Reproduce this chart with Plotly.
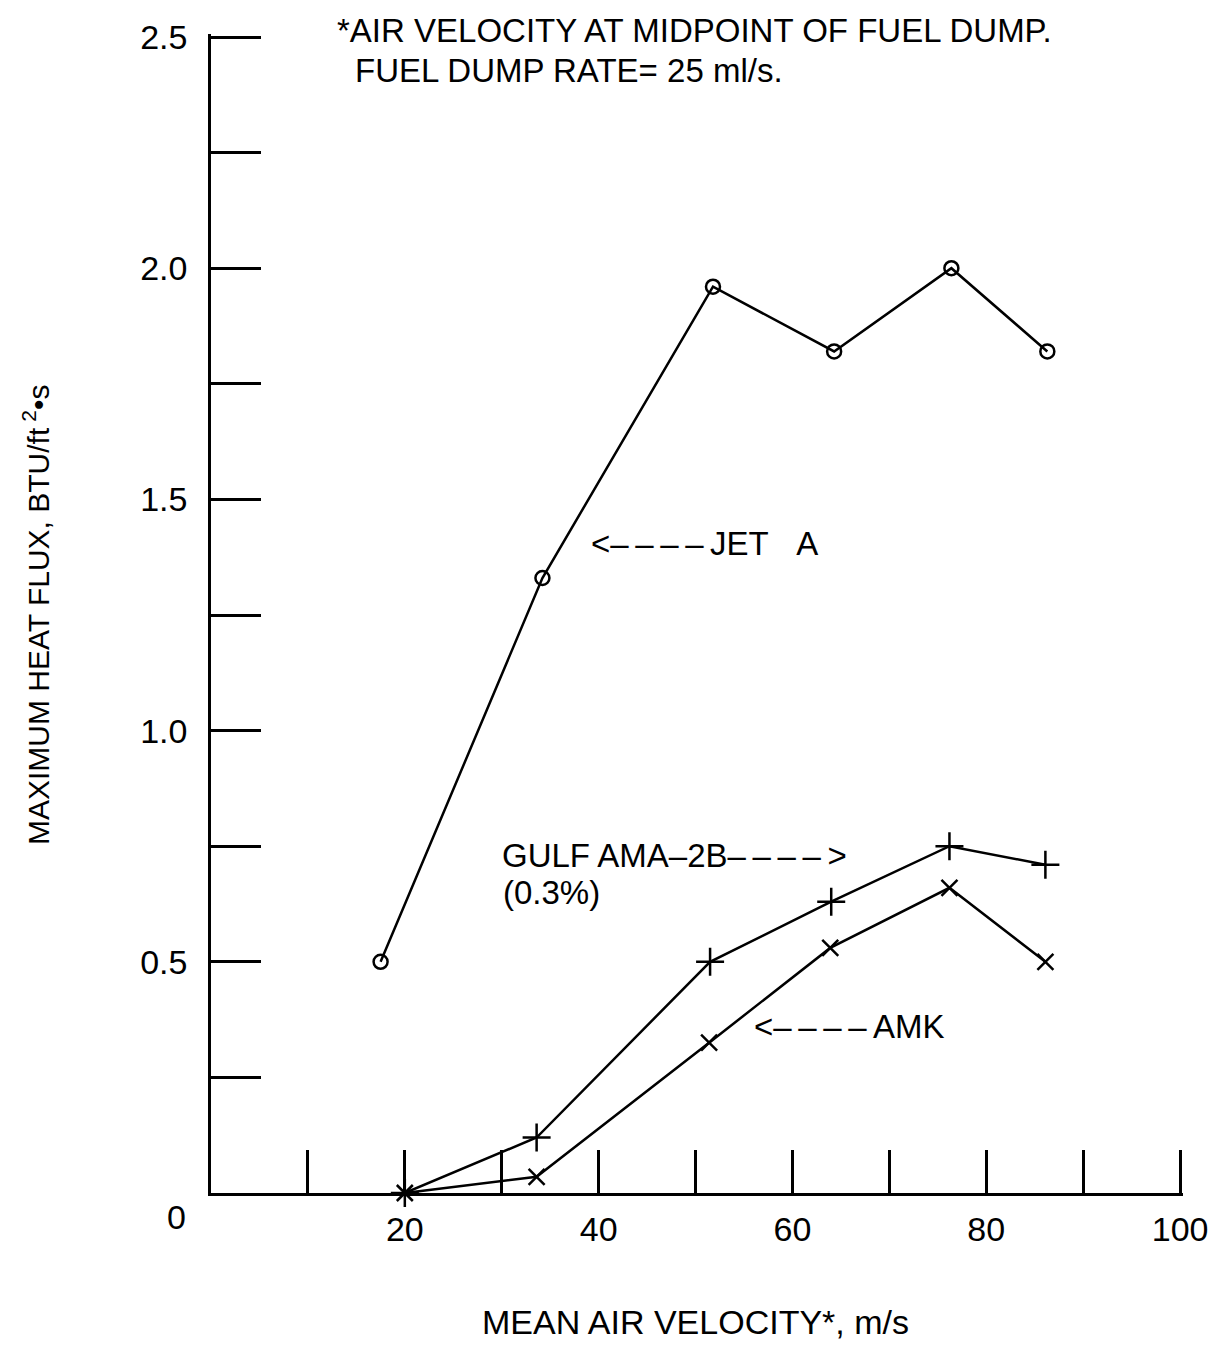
import plotly.graph_objects as go

# Data
jet_a_x = [17.5, 34.2, 51.8, 64.3, 76.4, 86.3]
jet_a_y = [0.50, 1.33, 1.96, 1.82, 2.00, 1.82]

gulf_x = [20.0, 33.6, 51.5, 64.0, 76.2, 86.1]
gulf_y = [0.0, 0.12, 0.50, 0.63, 0.75, 0.71]

amk_x = [20.0, 33.6, 51.4, 63.9, 76.2, 86.1]
amk_y = [0.0, 0.035, 0.325, 0.53, 0.66, 0.50]

x_tick_vals = [20, 40, 60, 80, 100]
x_tick_text = ["20", "40", "60", "80", "100"]
y_tick_vals = [0.5, 1.0, 1.5, 2.0, 2.5]
y_tick_text = ["0.5", "1.0", "1.5", "2.0", "2.5"]

FONT = "Liberation Sans, Arial, Helvetica, sans-serif"
FS = 33
TICK_FS = 34

D = "\u2013\u2009"  # dash segment used in the pointer labels
NB = "\u00a0"

fig = go.Figure()
fig.add_trace(go.Scatter(x=jet_a_x, y=jet_a_y, mode="lines+markers",
                         line=dict(color="black", width=2.5),
                         marker=dict(symbol="circle-open", size=14, color="black",
                                     line=dict(width=2.5, color="black")),
                         cliponaxis=False, showlegend=False))
fig.add_trace(go.Scatter(x=gulf_x, y=gulf_y, mode="lines+markers",
                         line=dict(color="black", width=2.5),
                         marker=dict(symbol="cross-thin-open", size=20, color="black",
                                     line=dict(width=2.5, color="black")),
                         cliponaxis=False, showlegend=False))
fig.add_trace(go.Scatter(x=amk_x, y=amk_y, mode="lines+markers",
                         line=dict(color="black", width=2.5),
                         marker=dict(symbol="x-thin-open", size=16, color="black",
                                     line=dict(width=2.5, color="black")),
                         cliponaxis=False, showlegend=False))

# pointer labels in data coordinates
data_anns = [
    dict(x=39.0, y=1.405, text="<" + D * 4 + "JET" + NB * 3 + "A"),
    dict(x=29.8, y=0.73, text="GULF AMA\u20132B" + D * 4 + ">"),
    dict(x=29.9, y=0.65, text="(0.3%)"),
    dict(x=55.8, y=0.36, text="<" + D * 4 + "AMK"),
]
for a in data_anns:
    fig.add_annotation(xref="x", yref="y", xanchor="left", yanchor="middle",
                       showarrow=False,
                       font=dict(family=FONT, size=FS, color="black"), **a)

# plot area geometry (pixels): x=0 at 211, x=100 at 1180; y=0 at 1193, y=2.5 at 37
L, R_PX, B_PX, T_PX = 211, 1180, 1193, 37
X_MAX = 100.3   # slight overshoot so the end tick marks are drawn
Y_MAX = 2.5065
plot_w = (R_PX - L) * X_MAX / 100.0
plot_h = (B_PX - T_PX) * Y_MAX / 2.5
margin_r = 1225 - L - plot_w
margin_t = B_PX - plot_h


def px_to_paper(px, py):
    return (px - L) / plot_w, (B_PX - py) / plot_h


# notes / labels in paper coordinates
paper_specs = [
    (335, 30, "*AIR VELOCITY AT MIDPOINT OF FUEL DUMP.", "left", FS),
    (353, 70, "FUEL DUMP RATE= 25 ml/s.", "left", FS),
    (177, 1217, "0", "center", TICK_FS),
    (695, 1322, "MEAN AIR VELOCITY*, m/s", "center", 34),
]
for px, py, text, anchor, size in paper_specs:
    xx, yy = px_to_paper(px, py)
    fig.add_annotation(xref="paper", yref="paper", x=xx, y=yy, text=text,
                       xanchor=anchor, yanchor="middle", showarrow=False,
                       font=dict(family=FONT, size=size, color="black"))

yx, yy = px_to_paper(36, 615)
fig.add_annotation(xref="paper", yref="paper", x=yx, y=yy, textangle=-90,
                   text="MAXIMUM HEAT FLUX, BTU/ft\u2009<sup>2</sup>•s", showarrow=False,
                   xanchor="center", yanchor="middle",
                   font=dict(family=FONT, size=30, color="black"))

fig.update_layout(
    width=1225, height=1348,
    margin=dict(l=L, r=margin_r, t=margin_t, b=1348 - B_PX),
    plot_bgcolor="white", paper_bgcolor="white",
    font=dict(family=FONT, size=FS, color="black"),
    xaxis=dict(range=[0, X_MAX], showline=True, linecolor="black", linewidth=2.5,
               showgrid=False, zeroline=False, ticks="inside", ticklen=43,
               tickwidth=2.5, tickcolor="black", tickmode="array",
               tickvals=x_tick_vals, ticktext=x_tick_text, ticklabelstandoff=4,
               tickfont=dict(family=FONT, size=TICK_FS, color="black"),
               minor=dict(dtick=10, tick0=0, ticks="inside", ticklen=43,
                          tickwidth=2.5, tickcolor="black", showgrid=False)),
    yaxis=dict(range=[0, Y_MAX], showline=True, linecolor="black", linewidth=2.5,
               showgrid=False, zeroline=False, ticks="inside", ticklen=50,
               tickwidth=2.5, tickcolor="black", tickmode="array",
               tickvals=y_tick_vals, ticktext=y_tick_text, ticklabelstandoff=14,
               tickfont=dict(family=FONT, size=TICK_FS, color="black"),
               minor=dict(dtick=0.25, tick0=0, ticks="inside", ticklen=50,
                          tickwidth=2.5, tickcolor="black", showgrid=False)),
)

fig.write_html("out.html")
